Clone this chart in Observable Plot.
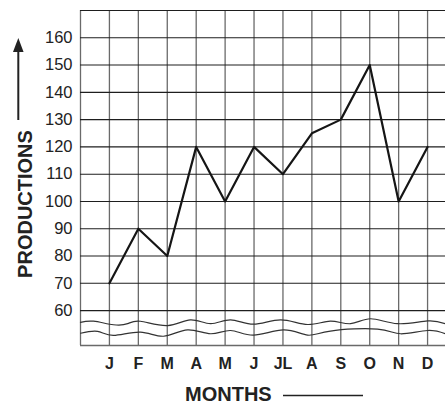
<!DOCTYPE html>
<html>
<head>
<meta charset="utf-8">
<script src="https://cdn.jsdelivr.net/npm/d3@7"></script>
<script src="https://cdn.jsdelivr.net/npm/@observablehq/plot@0.6"></script>
<style>
  html, body { margin: 0; padding: 0; background: #fff; }
  #chart svg { display: block; }
</style>
</head>
<body>
<div id="chart"></div>
<script>
// ---- data ----
const months = ["J", "F", "M", "A", "M", "J", "JL", "A", "S", "O", "N", "D"];
const monthIndex = [1, 2, 3, 4, 5, 6, 7, 8, 9, 10, 11, 12];
const productions = [70, 90, 80, 120, 100, 120, 110, 125, 130, 150, 100, 120];
const yTicks = [60, 70, 80, 90, 100, 110, 120, 130, 140, 150, 160];
const gridRowsY = [60, 70, 80, 90, 100, 110, 120, 130, 140, 150, 160, 170];
const gridColsX = [0, 1, 2, 3, 4, 5, 6, 7, 8, 9, 10, 11, 12];
// axis-break wavy lines
const waveUpperX = [0, 0.45, 1.14, 1.63, 2.07, 3.01, 3.80, 4.50, 5.19, 5.98, 6.92, 7.85, 8.64, 9.34, 10.03, 10.96, 12.0, 12.62];
const waveUpperY = [55.7, 56.1, 54.8, 55.2, 56.1, 54.5, 56.6, 55.2, 56.6, 55.0, 56.6, 54.9, 56.1, 55.2, 57.0, 55.2, 56.2, 55.2];
const waveLowerX = [0, 0.59, 1.14, 2.07, 2.87, 3.70, 4.50, 5.19, 5.98, 7.02, 7.85, 8.64, 10.27, 11.07, 12.0, 12.62];
const waveLowerY = [51.7, 52.4, 50.9, 52.1, 50.6, 52.9, 51.5, 52.7, 51.0, 52.9, 51.0, 52.5, 53.2, 51.5, 52.7, 51.5];

const lineData = monthIndex.map((m, i) => ({m, v: productions[i]}));
const upper = waveUpperX.map((x, i) => ({x, y: waveUpperY[i]}));
const lower = waveLowerX.map((x, i) => ({x, y: waveLowerY[i]}));

const font = "'Liberation Sans', Arial, Helvetica, sans-serif";

const plot = Plot.plot({
  width: 445,
  height: 405,
  marginLeft: 80,
  marginRight: 0,
  marginTop: 10,
  marginBottom: 60,
  x: {domain: [0, 12.62], axis: null},
  y: {domain: [47.2, 170], axis: null},
  style: {fontFamily: font, background: "#fff", color: "#222"},
  marks: [
    Plot.ruleX(gridColsX, {stroke: "#6a6a6a", strokeWidth: 1.3}),
    Plot.ruleY(gridRowsY, {stroke: "#1e1e1e", strokeWidth: 1.1}),
    Plot.ruleY([47.2], {stroke: "#6a6a6a", strokeWidth: 1.3}),
    Plot.line(upper, {x: "x", y: "y", curve: "natural", stroke: "#333", strokeWidth: 1.2}),
    Plot.line(lower, {x: "x", y: "y", curve: "natural", stroke: "#333", strokeWidth: 1.2}),
    Plot.line(lineData, {x: "m", y: "v", stroke: "#151515", strokeWidth: 2.2}),
    Plot.axisY(yTicks, {tickSize: 0, tickPadding: 8, fontSize: 16.5, fill: "#222", label: null}),
    Plot.axisX(monthIndex, {tickSize: 0, tickPadding: 12, fontSize: 16, fontWeight: "bold", fill: "#222",
      tickFormat: (d) => months[d - 1], label: null})
  ]
});

const svg = d3.select(plot);
// y title with arrow
svg.append("text")
  .attr("transform", "translate(32,204) rotate(-90)")
  .attr("text-anchor", "middle")
  .attr("font-family", font)
  .attr("font-weight", "bold")
  .attr("font-size", 20)
  .attr("fill", "#222")
  .text("PRODUCTIONS");
svg.append("line")
  .attr("x1", 18.3).attr("x2", 18.3).attr("y1", 120).attr("y2", 48)
  .attr("stroke", "#222").attr("stroke-width", 2);
svg.append("polygon")
  .attr("points", "18.3,38 13,52 23.6,52")
  .attr("fill", "#222");
// x title with line
svg.append("text")
  .attr("x", 185).attr("y", 401)
  .attr("text-anchor", "start")
  .attr("font-family", font)
  .attr("font-weight", "bold")
  .attr("font-size", 20)
  .attr("fill", "#222")
  .text("MONTHS");
svg.append("line")
  .attr("x1", 283).attr("x2", 363).attr("y1", 395.5).attr("y2", 395.5)
  .attr("stroke", "#222").attr("stroke-width", 1.6);

document.getElementById("chart").append(plot);
</script>
</body>
</html>
